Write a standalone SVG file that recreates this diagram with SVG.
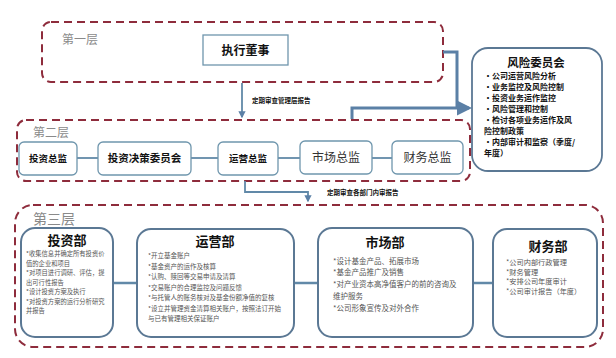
<svg xmlns="http://www.w3.org/2000/svg" width="616" height="358" viewBox="0 0 616 358">
<defs>
<marker id="ah" viewBox="0 0 10 10" refX="8" refY="5" markerWidth="4" markerHeight="4" orient="auto"><path d="M0,0 L10,5 L0,10 z" fill="#5b80a6"/></marker>
<marker id="ahs" viewBox="0 0 10 10" refX="8" refY="5" markerWidth="5" markerHeight="5" orient="auto"><path d="M0,0 L10,5 L0,10 z" fill="#5b80a6"/></marker>
</defs>
<style>
.layer{fill:none;stroke:#8e2c3c;stroke-width:2;stroke-dasharray:8 5}
.lt{font-family:"Noto Sans CJK SC",sans-serif;fill:#8a8a8a;font-size:12px}
.box{fill:#fff;stroke:#6f96ad;stroke-width:1.3}
.dept{fill:#fff;stroke:#5b7894;stroke-width:2}
.bt{font-family:"Noto Sans CJK SC",sans-serif;fill:#111;font-weight:bold;text-anchor:middle}
.it{font-family:"Noto Sans CJK SC",sans-serif;fill:#555}
.rk{font-family:"Noto Sans CJK SC",serif;fill:#111;font-weight:bold;font-size:8px}
.lbl{font-family:"Noto Sans CJK SC",sans-serif;fill:#111;font-weight:bold;font-size:6.5px}
.ln{fill:none;stroke:#6189a8;stroke-width:1.8}
.thick{fill:none;stroke:#5b80a6;stroke-width:3}
</style>
<g id="layer1">
<rect class="layer" x="42" y="22" width="401" height="60" rx="9"/>
<text class="lt" x="62" y="44">第一层</text>
</g>
<g id="layer2">
<rect class="layer" x="17" y="120" width="453" height="61" rx="9"/>
<text class="lt" x="33" y="137">第二层</text>
</g>
<g id="layer3">
<rect class="layer" x="15" y="205" width="588" height="142" rx="18"/>
<text class="lt" x="33" y="224" style="font-size:14px">第三层</text>
</g>
<g id="connectors">
<line class="ln" x1="77" y1="158" x2="98" y2="158"/>
<line class="ln" x1="191" y1="158" x2="218" y2="158"/>
<line class="ln" x1="278" y1="158" x2="300" y2="158"/>
<line class="ln" x1="372" y1="158" x2="392" y2="158"/>
<line class="ln" x1="113" y1="283" x2="138" y2="283" style="stroke-width:2.5"/>
<line class="ln" x1="294" y1="283" x2="318" y2="283" style="stroke-width:2.5"/>
<line class="ln" x1="473" y1="283" x2="493" y2="283" style="stroke-width:2.5"/>
<path class="ln" d="M242,83 V117" marker-end="url(#ah)"/>
<text class="lbl" x="252" y="103">定期审查管理层报告</text>
<path class="ln" d="M245,181 V192 H308 V201" marker-end="url(#ah)"/>
<text class="lbl" x="327" y="195">定期审查各部门内审报告</text>
<path class="thick" d="M443,52 H457 V108"/>
<path class="thick" d="M352,119 V108 H469" marker-end="url(#ahs)"/>
</g>
<g id="exec">
<rect class="box" x="203" y="35" width="85" height="30"/>
<text class="bt" x="245.5" y="55" font-size="12">执行董事</text>
</g>
<g id="risk">
<rect x="472" y="48" width="130" height="123" rx="16" fill="#fff" stroke="#5b7894" stroke-width="1.8"/>
<text class="bt" x="536" y="67" font-size="11.5" style="font-family:'Noto Sans CJK SC',serif">风险委员会</text>
<text class="rk" x="484" y="79">•公司运营风险分析</text>
<text class="rk" x="484" y="90">•业务监控及风险控制</text>
<text class="rk" x="484" y="101">•投资业务运作监控</text>
<text class="rk" x="484" y="112">•风险管理和控制</text>
<text class="rk" x="484" y="123">•检讨各项业务运作及风</text>
<text class="rk" x="484" y="134">险控制政策</text>
<text class="rk" x="484" y="145">•内部审计和监察（季度/</text>
<text class="rk" x="484" y="156">年度）</text>
</g>
<g id="l2-invest">
<rect class="box" x="19" y="142" width="58" height="33" rx="5"/>
<text class="bt" x="48" y="162" font-size="9.5">投资总监</text>
</g>
<g id="l2-committee">
<rect class="box" x="98" y="142" width="93" height="33" rx="5"/>
<text class="bt" x="144.5" y="162" font-size="10.5">投资决策委员会</text>
</g>
<g id="l2-ops">
<rect class="box" x="218" y="142" width="60" height="33" rx="5"/>
<text class="bt" x="248" y="162" font-size="9.5">运营总监</text>
</g>
<g id="l2-market">
<rect class="box" x="300" y="141" width="72" height="33" rx="5"/>
<text class="bt" x="336" y="162" font-size="12" style="font-weight:normal;fill:#333">市场总监</text>
</g>
<g id="l2-finance">
<rect class="box" x="392" y="141" width="71" height="33" rx="5"/>
<text class="bt" x="427.5" y="162" font-size="12" style="font-weight:normal;fill:#333">财务总监</text>
</g>
<g id="d-invest">
<rect class="dept" x="21" y="228" width="92" height="109" rx="14"/>
<text class="bt" x="67" y="245" font-size="13">投资部</text>
<g class="it" font-size="6.3">
<text x="26" y="256">*收集信息并确定所有投资价</text>
<text x="26" y="265.5">值的企业和项目</text>
<text x="26" y="275">*对项目进行调研、评估，提</text>
<text x="26" y="284.5">出可行性报告</text>
<text x="26" y="294">*设计投资方案及执行</text>
<text x="26" y="303.5">*对投资方案的运行分析研究</text>
<text x="26" y="313">并报告</text>
</g>
</g>
<g id="d-ops">
<rect class="dept" x="137" y="229" width="157" height="108" rx="14"/>
<text class="bt" x="215" y="246" font-size="13">运营部</text>
<g class="it" font-size="6.5">
<text x="148" y="258">*开立基金账户</text>
<text x="148" y="268.5">*基金资产的运作及核算</text>
<text x="148" y="279">*认购、赎回等交易申请及清算</text>
<text x="148" y="289.5">*交易账户的合理监控及问题反馈</text>
<text x="148" y="300">*与托管人的账务核对及基金份额净值的复核</text>
<text x="148" y="310.5">*设立并管理资金清算相关账户，按照法订开始</text>
<text x="148" y="321">与已有管理相关保证账户</text>
</g>
</g>
<g id="d-market">
<rect class="dept" x="318" y="228" width="155" height="109" rx="14"/>
<text class="bt" x="385" y="247" font-size="13">市场部</text>
<g class="it" font-size="7.5">
<text x="333" y="264">*设计基金产品、拓展市场</text>
<text x="333" y="275">*基金产品推广及销售</text>
<text x="333" y="287">*对产业资本高净值客户的前的咨询及</text>
<text x="333" y="299">维护服务</text>
<text x="333" y="311">*公司形象宣传及对外合作</text>
</g>
</g>
<g id="d-finance">
<rect class="dept" x="493" y="229" width="104" height="108" rx="14"/>
<text class="bt" x="548" y="251" font-size="13">财务部</text>
<g class="it" font-size="7.2">
<text x="506" y="265">*公司内部行政管理</text>
<text x="506" y="274.5">*财务管理</text>
<text x="506" y="284">*安排公司年度审计</text>
<text x="506" y="293.5">*公司审计报告（年度）</text>
</g>
</g>
</svg>
